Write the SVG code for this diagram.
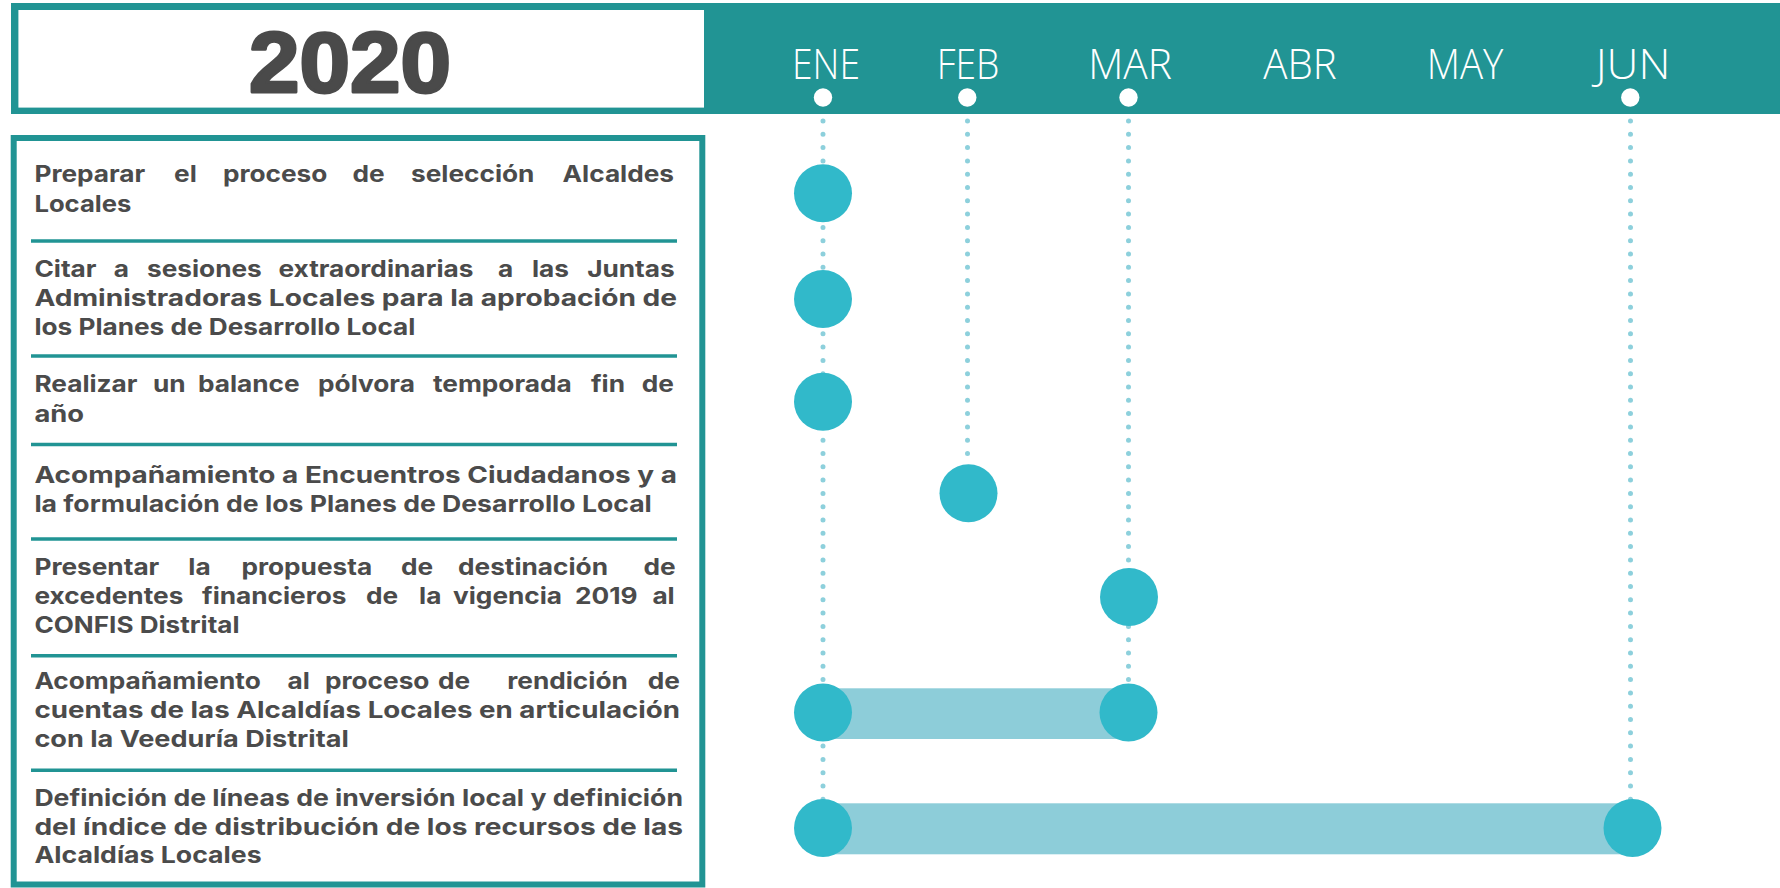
<svg xmlns="http://www.w3.org/2000/svg" width="1780" height="888" viewBox="0 0 1780 888">
<style>
.teal{fill:#219494}
.month{font-family:"Open Sans","Liberation Sans",sans-serif;font-weight:300;font-size:42px;fill:#ffffff;text-anchor:middle}
.mdot{fill:#ffffff}
.t{font-family:Inter,"Open Sans","Liberation Sans",sans-serif;font-weight:700;font-size:23px;fill:#4b4b4b}
.e{text-anchor:end}
.sep{stroke:#219494;stroke-width:3.5}
.vdot{stroke:#8dd0dc;stroke-width:5;stroke-linecap:round;stroke-dasharray:0 13.3;fill:none}
.bar{fill:#8dcdd9}
.ms{fill:#31b9ca}
</style>
<rect width="1780" height="888" fill="#ffffff"/>
<g id="header">
<rect class="teal" x="11" y="3" width="1769" height="111"/>
<rect x="18.4" y="10" width="685.6" height="97.6" fill="#ffffff"/>
<text x="350" y="92" text-anchor="middle" textLength="202" lengthAdjust="spacingAndGlyphs" font-family="'Liberation Sans',Arial,sans-serif" font-weight="700" font-size="86" fill="#4a4a4a" stroke="#4a4a4a" stroke-width="3" stroke-linejoin="round">2020</text>
</g>
<g id="months">
<text class="month" x="826" y="79.3" textLength="68" lengthAdjust="spacingAndGlyphs">ENE</text>
<text class="month" x="968" y="79.3" textLength="62.6" lengthAdjust="spacingAndGlyphs">FEB</text>
<text class="month" x="1130" y="79.3" textLength="83.7" lengthAdjust="spacingAndGlyphs">MAR</text>
<text class="month" x="1300" y="79.3" textLength="73.4" lengthAdjust="spacingAndGlyphs">ABR</text>
<text class="month" x="1465" y="79.3" textLength="76.6" lengthAdjust="spacingAndGlyphs">MAY</text>
<text class="month" x="1633" y="79.3" textLength="74.7" lengthAdjust="spacingAndGlyphs">JUN</text>
<circle class="mdot" cx="823" cy="97.5" r="9.2"/>
<circle class="mdot" cx="967.3" cy="97.5" r="9.2"/>
<circle class="mdot" cx="1128.5" cy="97.5" r="9.2"/>
<circle class="mdot" cx="1630.3" cy="97.5" r="9.2"/>
</g>
<g id="activities">
<rect x="13.7" y="138" width="688.6" height="746.5" fill="#ffffff" stroke="#219494" stroke-width="6"/>
<line class="sep" x1="31" y1="241" x2="677" y2="241"/>
<line class="sep" x1="31" y1="356" x2="677" y2="356"/>
<line class="sep" x1="31" y1="444.5" x2="677" y2="444.5"/>
<line class="sep" x1="31" y1="539" x2="677" y2="539"/>
<line class="sep" x1="31" y1="655.7" x2="677" y2="655.7"/>
<line class="sep" x1="31" y1="770.3" x2="677" y2="770.3"/>
</g>
<g id="task1">
<g transform="translate(34.4 0) scale(1.14 1)">
<text class="t" y="182.5"><tspan x="0">Preparar</tspan><tspan x="122.5">el</tspan><tspan x="165.4">proceso</tspan><tspan x="279">de</tspan><tspan x="330.4">selección</tspan></text>
<text class="t e" x="561.1" y="182.5">Alcaldes</text>
</g>
<text class="t" x="34.4" y="211.5" textLength="97" lengthAdjust="spacingAndGlyphs">Locales</text>
</g>
<g id="task2">
<g transform="translate(34.4 0) scale(1.14 1)">
<text class="t" y="277"><tspan x="0">Citar</tspan><tspan x="69.6">a</tspan><tspan x="98.8">sesiones</tspan><tspan x="214.1">extraordinarias</tspan><tspan x="406.7">a</tspan><tspan x="436.5">las</tspan></text>
<text class="t e" x="561.7" y="277">Juntas</text>
</g>
<text class="t" x="34.4" y="305.7" textLength="642.6" lengthAdjust="spacingAndGlyphs">Administradoras Locales para la aprobación de</text>
<text class="t" x="34.4" y="334.5" textLength="381" lengthAdjust="spacingAndGlyphs">los Planes de Desarrollo Local</text>
</g>
<g id="task3">
<g transform="translate(34.4 0) scale(1.14 1)">
<text class="t" y="391.7"><tspan x="0">Realizar</tspan><tspan x="104">un</tspan><tspan x="143.5">balance</tspan><tspan x="248.8">pólvora</tspan><tspan x="349.6">temporada</tspan><tspan x="488.2">fin</tspan></text>
<text class="t e" x="560.9" y="391.7">de</text>
</g>
<text class="t" x="34.4" y="421.5" textLength="49.6" lengthAdjust="spacingAndGlyphs">año</text>
</g>
<g id="task4">
<text class="t" x="34.4" y="483.3" textLength="642.6" lengthAdjust="spacingAndGlyphs">Acompañamiento a Encuentros Ciudadanos y a</text>
<text class="t" x="34.4" y="511.7" textLength="617.4" lengthAdjust="spacingAndGlyphs">la formulación de los Planes de Desarrollo Local</text>
</g>
<g id="task5">
<g transform="translate(34.4 0) scale(1.14 1)">
<text class="t" y="575"><tspan x="0">Presentar</tspan><tspan x="135">la</tspan><tspan x="181.6">propuesta</tspan><tspan x="321.6">de</tspan><tspan x="371.6">destinación</tspan></text>
<text class="t e" x="562.5" y="575">de</text>
<text class="t" y="604"><tspan x="0">excedentes</tspan><tspan x="147">financieros</tspan><tspan x="290.9">de</tspan><tspan x="337.4">la</tspan><tspan x="367.2">vigencia</tspan><tspan x="474.2">2019</tspan></text>
<text class="t e" x="561.7" y="604">al</text>
</g>
<text class="t" x="34.4" y="632.7" textLength="205.2" lengthAdjust="spacingAndGlyphs">CONFIS Distrital</text>
</g>
<g id="task6">
<g transform="translate(34.4 0) scale(1.14 1)">
<text class="t" y="689.3"><tspan x="0">Acompañamiento</tspan><tspan x="222">al</tspan><tspan x="254.9">proceso</tspan><tspan x="354">de</tspan><tspan x="414.8">rendición</tspan></text>
<text class="t e" x="566.3" y="689.3">de</text>
</g>
<text class="t" x="34.4" y="718.3" textLength="645.6" lengthAdjust="spacingAndGlyphs">cuentas de las Alcaldías Locales en articulación</text>
<text class="t" x="34.4" y="746.7" textLength="314.4" lengthAdjust="spacingAndGlyphs">con la Veeduría Distrital</text>
</g>
<g id="task7">
<text class="t" x="34.4" y="806" textLength="648.6" lengthAdjust="spacingAndGlyphs">Definición de líneas de inversión local y definición</text>
<text class="t" x="34.4" y="835" textLength="648.6" lengthAdjust="spacingAndGlyphs">del índice de distribución de los recursos de las</text>
<text class="t" x="34.4" y="863.3" textLength="227.2" lengthAdjust="spacingAndGlyphs">Alcaldías Locales</text>
</g>
<g id="connectors">
<line class="vdot" x1="823" y1="121" x2="823" y2="800"/>
<line class="vdot" x1="967.5" y1="121" x2="967.5" y2="465"/>
<line class="vdot" x1="1128.5" y1="121" x2="1128.5" y2="685"/>
<line class="vdot" x1="1630.5" y1="121" x2="1630.5" y2="800"/>
</g>
<g id="m1"><circle class="ms" cx="823" cy="193.3" r="29"/></g>
<g id="m2"><circle class="ms" cx="823" cy="299" r="29"/></g>
<g id="m3"><circle class="ms" cx="823" cy="401.7" r="29"/></g>
<g id="m4"><circle class="ms" cx="968.5" cy="493.3" r="29"/></g>
<g id="m5"><circle class="ms" cx="1129" cy="597" r="29"/></g>
<g id="m6">
<rect class="bar" x="823" y="688.3" width="305.5" height="50.7"/>
<circle class="ms" cx="823" cy="712.5" r="29"/>
<circle class="ms" cx="1128.5" cy="712.5" r="29"/>
</g>
<g id="m7">
<rect class="bar" x="823" y="803.3" width="809" height="51"/>
<circle class="ms" cx="823" cy="828" r="29"/>
<circle class="ms" cx="1632.5" cy="828" r="29"/>
</g>
</svg>
